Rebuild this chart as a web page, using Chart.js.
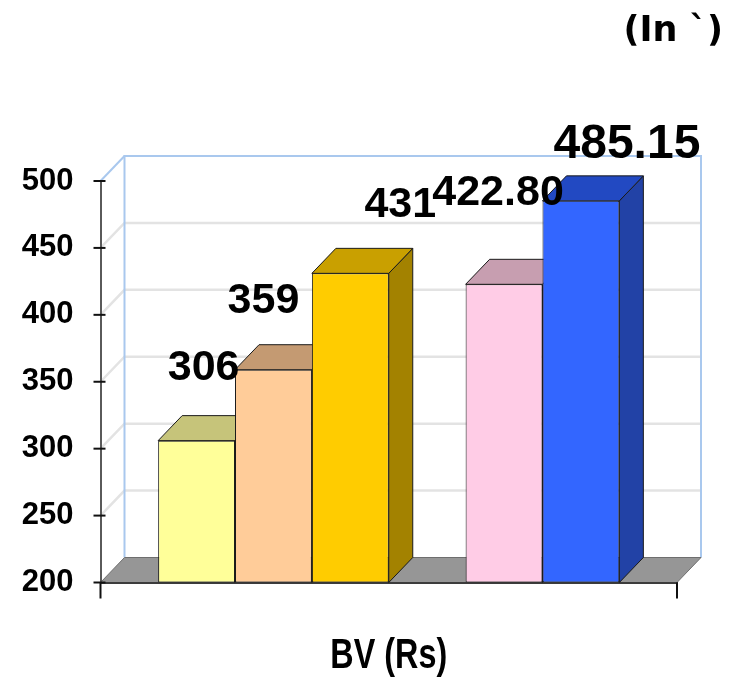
<!DOCTYPE html>
<html>
<head>
<meta charset="utf-8">
<title>BV (Rs)</title>
<script src="https://cdn.jsdelivr.net/npm/chart.js@4.4.1/dist/chart.umd.min.js"></script>
<style>
  html, body { margin: 0; padding: 0; background: #ffffff; }
  #wrap { width: 740px; height: 683px; }
</style>
</head>
<body>
<div id="wrap"><canvas id="c" width="740" height="683"></canvas></div>
<script>
// ---- data ----
const categories = ['BV (Rs)'];
const seriesNames = ['Series 1', 'Series 2', 'Series 3', 'Series 4', 'Series 5', 'Series 6'];
const seriesValues = [306, 359, 431, null, 422.80, 485.15];
const yTicks = [200, 250, 300, 350, 400, 450, 500];
const unitTitle = '(In `)';

// ---- styling ----
const frontColors = ['#FFFF99', '#FFCC99', '#FFCC00', '#FFFFFF', '#FFCCE6', '#3366FF'];
const topColors   = ['#C6C47A', '#C49A72', '#C9A000', '#FFFFFF', '#C79EB0', '#2249C2'];
const sideColors  = ['#A8A65E', '#A67E58', '#A38200', '#FFFFFF', '#A88294', '#2242A6'];
// value label placement relative to each bar's front top centre, and label font size
const labelShift = [
  { dx: 7,   dy: -72, size: 43 },
  { dx: -10, dy: -69, size: 43 },
  { dx: 50,  dy: -68, size: 43 },
  { dx: 0,   dy: 0,   size: 43 },
  { dx: -6,  dy: -91, size: 43 },
  { dx: 46,  dy: -56, size: 48 }
];
const DEPTH = { dx: 24, dy: -25 };
const LABEL_FONT = '"Liberation Sans", Arial, sans-serif';

function fmtValue(v) {
  return Number.isInteger(v) ? String(v) : v.toFixed(2);
}

// back wall, side wall, floor and back-wall gridlines
const wallPlugin = {
  id: 'wall3d',
  beforeDraw(chart) {
    const { ctx, chartArea: a, scales } = chart;
    const y = scales.y;
    const L = a.left, R = a.right, T = y.getPixelForValue(yTicks[yTicks.length - 1]);
    const B = y.getPixelForValue(yTicks[0]);
    const dx = DEPTH.dx, dy = DEPTH.dy;
    ctx.save();
    // gridlines on back and side wall
    ctx.strokeStyle = '#E3E3E3';
    ctx.lineWidth = 2.5;
    yTicks.forEach(v => {
      if (v === yTicks[0] || v === yTicks[yTicks.length - 1]) return;
      const py = y.getPixelForValue(v);
      ctx.beginPath();
      ctx.moveTo(L, py);
      ctx.lineTo(L + dx, py + dy);
      ctx.lineTo(R + dx, py + dy);
      ctx.stroke();
    });
    // wall outline
    ctx.strokeStyle = '#A9C8EE';
    ctx.lineWidth = 2;
    ctx.beginPath();
    ctx.moveTo(L + dx, B + dy);
    ctx.lineTo(L + dx, T + dy);
    ctx.lineTo(R + dx, T + dy);
    ctx.lineTo(R + dx, B + dy);
    ctx.stroke();
    ctx.beginPath();
    ctx.moveTo(L, T);
    ctx.lineTo(L + dx, T + dy);
    ctx.stroke();
    // floor
    ctx.fillStyle = '#969696';
    ctx.strokeStyle = '#6E6E6E';
    ctx.lineWidth = 1;
    ctx.beginPath();
    ctx.moveTo(L, B);
    ctx.lineTo(R, B);
    ctx.lineTo(R + dx, B + dy);
    ctx.lineTo(L + dx, B + dy);
    ctx.closePath();
    ctx.fill();
    ctx.stroke();
    ctx.restore();
  }
};

// top and side faces of every column
const facesPlugin = {
  id: 'faces3d',
  beforeDatasetsDraw(chart) {
    const { ctx, chartArea: a } = chart;
    const dx = DEPTH.dx, dy = DEPTH.dy;
    ctx.save();
    ctx.lineWidth = 1;
    ctx.strokeStyle = '#1A1A1A';
    chart.data.datasets.forEach((ds, i) => {
      const meta = chart.getDatasetMeta(i);
      meta.data.forEach((bar, j) => {
        if (ds.data[j] == null) return;
        const p = bar.getProps(['x', 'y', 'base', 'width'], true);
        const l = p.x - p.width / 2, r = p.x + p.width / 2, t = p.y;
        const b = Math.min(p.base, a.bottom);
        ctx.fillStyle = sideColors[i];
        ctx.beginPath();
        ctx.moveTo(r, t); ctx.lineTo(r + dx, t + dy); ctx.lineTo(r + dx, b + dy); ctx.lineTo(r, b);
        ctx.closePath(); ctx.fill(); ctx.stroke();
        ctx.fillStyle = topColors[i];
        ctx.beginPath();
        ctx.moveTo(l, t); ctx.lineTo(r, t); ctx.lineTo(r + dx, t + dy); ctx.lineTo(l + dx, t + dy);
        ctx.closePath(); ctx.fill(); ctx.stroke();
      });
    });
    ctx.restore();
  }
};

// value labels, category label and axis tick marks
const labelPlugin = {
  id: 'labels3d',
  afterDraw(chart) {
    const { ctx, chartArea: a, scales } = chart;
    ctx.save();
    // tick marks crossing the value axis
    ctx.strokeStyle = '#111111';
    ctx.lineWidth = 2;
    yTicks.forEach(v => {
      const py = scales.y.getPixelForValue(v);
      ctx.beginPath();
      ctx.moveTo(a.left - 7, py);
      ctx.lineTo(a.left + 5, py);
      ctx.stroke();
    });
    // category boundary ticks
    [a.left, a.right].forEach(px => {
      ctx.beginPath();
      ctx.moveTo(px, a.bottom);
      ctx.lineTo(px, a.bottom + 16);
      ctx.stroke();
    });
    // category label, in a condensed face
    ctx.fillStyle = '#000000';
    ctx.textAlign = 'center';
    ctx.textBaseline = 'alphabetic';
    ctx.font = 'bold 42px ' + LABEL_FONT;
    categories.forEach((c, j) => {
      const cx = scales.x.getPixelForValue(j);
      ctx.save();
      ctx.translate(cx, a.bottom + 85.5);
      ctx.scale(0.77, 1);
      ctx.fillText(c, 0, 0);
      ctx.restore();
    });
    // value labels
    ctx.textBaseline = 'middle';
    chart.data.datasets.forEach((ds, i) => {
      const meta = chart.getDatasetMeta(i);
      meta.data.forEach((bar, j) => {
        const v = ds.data[j];
        if (v == null) return;
        const s = labelShift[i];
        ctx.font = 'bold ' + s.size + 'px ' + LABEL_FONT;
        ctx.fillText(fmtValue(v), bar.x + s.dx, bar.y + s.dy);
      });
    });
    ctx.restore();
  }
};

const datasets = seriesNames.map((name, i) => ({
  label: name,
  data: [seriesValues[i]],
  base: yTicks[0],
  backgroundColor: frontColors[i],
  borderColor: '#1A1A1A',
  borderWidth: 1,
  borderSkipped: false
}));

new Chart(document.getElementById('c'), {
  type: 'bar',
  data: { labels: categories, datasets },
  options: {
    responsive: false,
    animation: false,
    layout: { padding: { left: 10, right: 17, top: 0, bottom: 0 } },
    datasets: { bar: { categoryPercentage: 0.8, barPercentage: 1.0 } },
    plugins: {
      legend: { display: false },
      tooltip: { enabled: false },
      title: {
        display: true,
        text: unitTitle,
        align: 'end',
        color: '#000000',
        font: { family: 'DejaVu Sans', weight: 'bold', size: 35 },
        padding: { top: 11, bottom: 128 }
      }
    },
    scales: {
      x: {
        type: 'category',
        offset: true,
        grid: { display: false, drawTicks: false },
        border: { display: true, color: '#3C3C3C', width: 2 },
        ticks: { display: false },
        afterFit(s) { s.height = 100.5; }
      },
      y: {
        type: 'linear',
        min: yTicks[0],
        max: yTicks[yTicks.length - 1],
        afterBuildTicks(s) { s.ticks = yTicks.map(v => ({ value: v })); },
        grid: { display: false, drawTicks: false },
        border: { display: true, color: '#5A5A5A', width: 2 },
        ticks: {
          color: '#000000',
          padding: 27,
          font: { family: LABEL_FONT, weight: 'bold', size: 31 }
        },
        afterFit(s) { s.width = 90.5; }
      },
      yR: {
        type: 'linear',
        position: 'right',
        display: true,
        grid: { display: false, drawTicks: false },
        border: { display: false },
        ticks: { display: false },
        afterFit(s) { s.width = 46; }
      }
    }
  },
  plugins: [wallPlugin, facesPlugin, labelPlugin]
});
</script>
</body>
</html>
